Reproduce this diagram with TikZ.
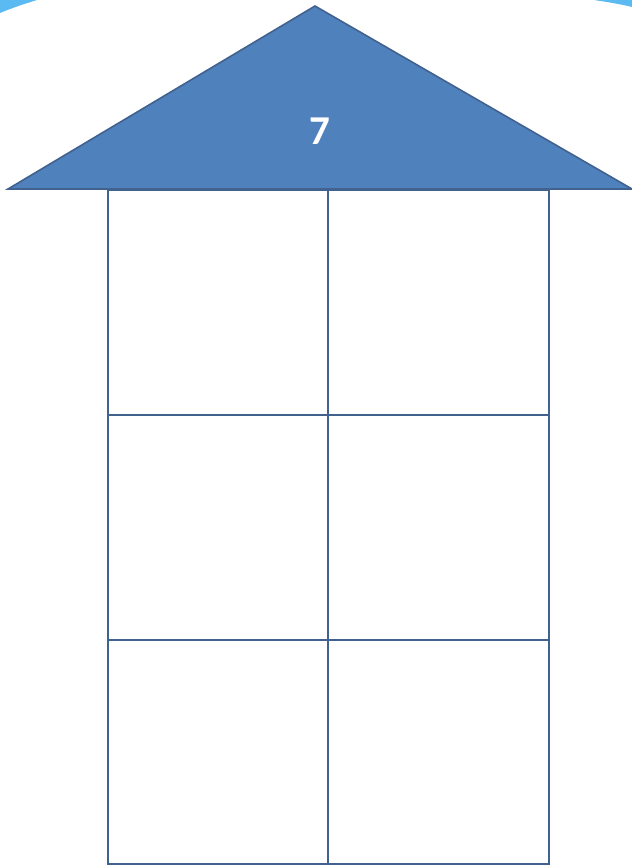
\documentclass[tikz,border=0pt]{standalone}
\usepackage{fontspec}
\newfontfamily\carlito{Carlito}[BoldFont={Carlito Bold}]
\definecolor{roof}{HTML}{4F81BD}
\definecolor{edge}{HTML}{41618F}
\definecolor{sky}{HTML}{5CBAF2}
\begin{document}
\begin{tikzpicture}[x=1pt,y=-1pt,
  cell/.style={draw=edge,line width=2pt},
  roofstyle/.style={fill=roof,draw=edge,line width=1.6pt,line join=miter}]
\useasboundingbox (0,0) rectangle (632,865);
% light blue background arcs in top corners
\fill[sky] (0,0) -- (37,0) .. controls (24,4) and (12,8) .. (0,13) -- cycle;
\fill[sky] (632,0) -- (594,0) .. controls (607,2) and (620,4) .. (632,7) -- cycle;
% roof
\draw[roofstyle] (315,6) -- (632,189) -- (8,189) -- cycle;
\node[text=white,font=\carlito\bfseries\fontsize{41}{41}\selectfont] (seven) at (320,131) {7};
% cells
\draw[cell] (108,190) rectangle (328,414.5);
\draw[cell] (328,190) rectangle (549,414.5);
\draw[cell] (108,414.5) rectangle (328,640);
\draw[cell] (328,414.5) rectangle (549,640);
\draw[cell] (108,640) rectangle (328,864);
\draw[cell] (328,640) rectangle (549,864);
\end{tikzpicture}
\end{document}
